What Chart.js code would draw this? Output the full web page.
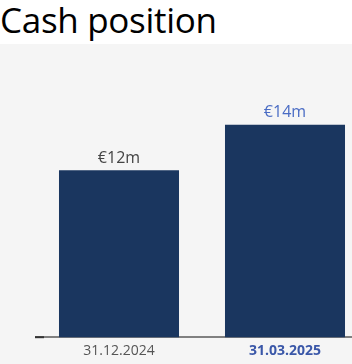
<!DOCTYPE html>
<html lang="en">
<head>
    <meta charset="UTF-8">
    <title>Cash position</title>
    <script src="https://cdn.jsdelivr.net/npm/chart.js"></script>
    <style>
        body { margin: 0; width: 352px; height: 364px; overflow: hidden; background: #fff; font-family: "Open Sans", sans-serif; }
        h2 { margin: 0; height: 44px; font-family: "Open Sans", sans-serif; font-weight: 400; font-size: 35px; line-height: 39px; color: #000; letter-spacing: -0.3px; overflow: hidden; }
        .panel { background: #f5f5f5; height: 320px; width: 352px; overflow: hidden; }
    </style>
</head>
<body>
    <h2>Cash position</h2>
    <div class="panel">
        <canvas id="cashChart" width="368" height="320"></canvas>
    </div>

    <script>
        const dates = ["31.12.2024", "31.03.2025"];
        const cash = [12, 14];
        const cashLabels = ["€12m", "€14m"];
        const labelColors = ["#444444", "#4a6cc4"];
        const tickColors = ["#555555", "#3a57a8"];

        // value text above each bar + the short dark stub at the axis start
        const barText = {
            id: "barText",
            afterDatasetsDraw(chart) {
                const ctx = chart.ctx;
                const meta = chart.getDatasetMeta(0);
                ctx.save();
                ctx.font = "16px 'Open Sans', sans-serif";
                ctx.textAlign = "center";
                ctx.textBaseline = "bottom";
                meta.data.forEach((bar, i) => {
                    ctx.fillStyle = labelColors[i];
                    ctx.fillText(cashLabels[i], bar.x, bar.y - 4);
                });
                const a = chart.chartArea;
                ctx.strokeStyle = "#333";
                ctx.lineWidth = 2;
                ctx.beginPath();
                ctx.moveTo(a.left - 1, a.bottom);
                ctx.lineTo(a.left + 8, a.bottom);
                ctx.stroke();
                ctx.restore();
            }
        };

        new Chart(document.getElementById("cashChart"), {
            type: "bar",
            data: {
                labels: dates,
                datasets: [{
                    data: cash,
                    backgroundColor: "#1a365f",
                    categoryPercentage: 0.723,
                    barPercentage: 1
                }]
            },
            options: {
                responsive: false,
                animation: false,
                layout: { padding: { left: 36, right: 0, top: 10, bottom: 0 } },
                plugins: { legend: { display: false }, tooltip: { enabled: false } },
                scales: {
                    y: { display: false, min: 4.67, max: 17.11 },
                    x: {
                        grid: { display: false, drawTicks: false },
                        border: { display: true, color: "#808080", width: 2 },
                        ticks: {
                            padding: 5,
                            color: (c) => tickColors[c.index],
                            font: (c) => ({ family: "'Open Sans', sans-serif", size: 14, weight: c.index === 1 ? "bold" : "normal" })
                        }
                    }
                }
            },
            plugins: [barText]
        });
    </script>
</body>
</html>
